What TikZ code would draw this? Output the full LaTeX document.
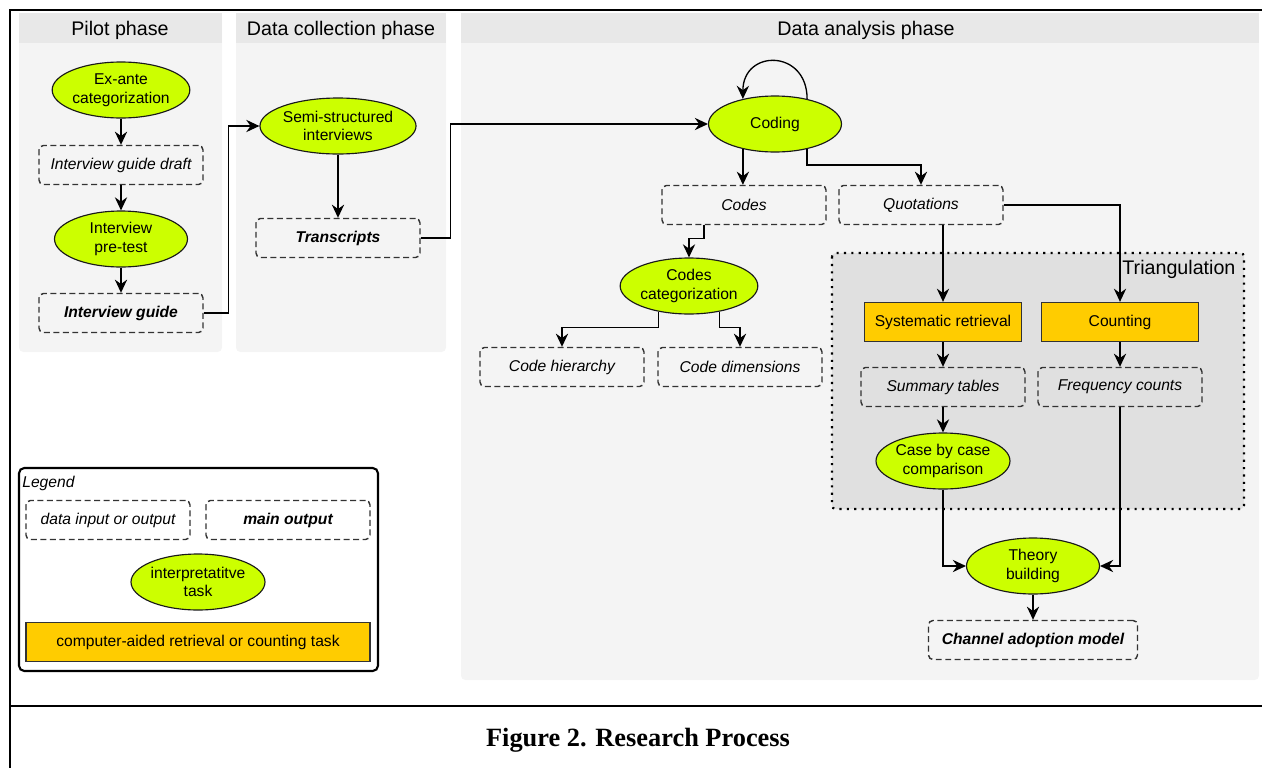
\documentclass[tikz,border=0pt]{standalone}
\usepackage{fontspec}
\setmainfont{Liberation Sans}
\newfontfamily\captionserif{Liberation Serif}
\usetikzlibrary{shapes.geometric, arrows.meta, calc}

\definecolor{taskgreen}{HTML}{CCFF00}
\definecolor{toolorange}{HTML}{FFCC00}
\definecolor{lanehead}{HTML}{E8E8E8}
\definecolor{lanebody}{HTML}{F4F4F4}
\definecolor{triangfill}{HTML}{E0E0E0}

\tikzset{
  task/.style={ellipse, draw=black!90, fill=taskgreen, line width=0.65pt,
    minimum width=2.66cm, minimum height=1.12cm, inner sep=0pt, align=center},
  datanode/.style={rectangle, rounded corners=2.5pt, draw=black!80, line width=0.8pt,
    dash pattern=on 3.4pt off 2pt, minimum width=3.28cm, minimum height=0.78cm, font=\itshape},
  mainout/.style={datanode, font=\bfseries\itshape},
  tooltask/.style={rectangle, draw=black!80, fill=toolorange, line width=0.75pt,
    minimum width=3.14cm, minimum height=0.78cm},
  flow/.style={-{Stealth[length=7.5pt, width=7pt, inset=2.5pt]}, line width=0.75pt},
  lanetitle/.style={font=\fontsize{11.2}{13}\selectfont}
}

\begin{document}
\fontsize{8.9}{10.7}\selectfont
\begin{tikzpicture}[x=0.02cm, y=-0.02cm]
    \useasboundingbox (0,0) rectangle (1262,768);

    % Frame of the figure
    \draw[line width=1.5pt] (10,768) -- (10,10) -- (1262,10);
    \draw[line width=1.5pt] (10,706) -- (1262,706);

    % Swimlanes of the three phases
    \fill[lanebody, rounded corners=2.5pt] (19,13) rectangle (222,352);
    \fill[lanehead] (19,13) rectangle (222,43);
    \fill[lanebody, rounded corners=2.5pt] (236,13) rectangle (446,352);
    \fill[lanehead] (236,13) rectangle (446,43);
    \fill[lanebody, rounded corners=2.5pt] (461,13) rectangle (1259,680);
    \fill[lanehead] (461,13) rectangle (1259,43);
    \node[lanetitle] (pilothead) at (120,30) {Pilot phase};
    \node[lanetitle] (collecthead) at (341,30) {Data collection phase};
    \node[lanetitle] (analysishead) at (866,30) {Data analysis phase};

    % Triangulation group
    \draw[fill=triangfill, line width=1.2pt, dash pattern=on 1.2pt off 3pt, rounded corners=2pt]
      (832,253) rectangle (1244,509);
    \node[lanetitle, anchor=east] (triang) at (1241,269) {Triangulation};

    % Pilot phase
    \node[task] (exante) at (121,90) {Ex-ante\\categorization};
    \node[datanode] (draft) at (121,165) {Interview guide draft};
    \node[task] (pretest) at (121,239) {Interview\\pre-test};
    \node[mainout] (guide) at (121,313) {Interview guide};

    % Data collection phase
    \node[task] (semi) at (338,126) {Semi-structured\\interviews};
    \node[mainout] (transcr) at (338,238) {Transcripts};

    % Data analysis phase
    \node[task] (coding) at (775,124) {Coding};
    \node[datanode] (codes) at (744,205) {Codes};
    \node[datanode] (quots) at (921,205) {Quotations};
    \node[task] (codecat) at (689,286) {Codes\\categorization};
    \node[datanode] (codehier) at (562,367) {Code hierarchy};
    \node[datanode] (codedim) at (740,367) {Code dimensions};
    \node[tooltask] (retrieval) at (943,322) {Systematic retrieval};
    \node[tooltask] (counting) at (1120,322) {Counting};
    \node[datanode] (summary) at (943,387) {Summary tables};
    \node[datanode] (freqs) at (1120,387) {Frequency counts};
    \node[task] (casecomp) at (943,461) {Case by case\\comparison};
    \node[task] (theory) at (1033,566) {Theory\\building};
    \node[mainout, minimum width=4.18cm] (model) at (1033,640) {Channel adoption model};

    % Flow arrows
    \draw[flow] (exante) -- (draft);
    \draw[flow] (draft) -- (pretest);
    \draw[flow] (pretest) -- (guide);
    \draw[flow] (guide.east) -- ++(25,0) |- (semi.west);
    \draw[flow] (semi) -- (transcr);
    \draw[flow] (transcr.east) -- ++(30,0) |- (coding.west);
    \draw[flow] (coding.38) .. controls +(0,-50) and +(0,-50) .. (coding.142);
    \draw[flow] (coding.218) -- (coding.218 |- codes.north);
    \draw[flow] (coding.322) -- ++(0,16) -| (quots.north);
    \draw[flow] ($(codes.south)+(-40,0)$) -- ++(0,13) -| (codecat.north);
    \draw[flow] (codecat.220) -- ++(0,16) -| (codehier.north);
    \draw[flow] (codecat.320) -- ++(0,16) -| (codedim.north);
    \draw[flow] (retrieval.north |- quots.south) -- (retrieval.north);
    \draw[flow] (quots.east) -| (counting.north);
    \draw[flow] (retrieval) -- (summary);
    \draw[flow] (counting) -- (freqs);
    \draw[flow] (summary) -- (casecomp);
    \draw[flow] (casecomp.south) |- (theory.west);
    \draw[flow] (freqs.south) |- (theory.east);
    \draw[flow] (theory) -- (model);

    % Legend
    \draw[line width=1.2pt, rounded corners=3pt, fill=white] (19,468) rectangle (378,671);
    \node[anchor=west, font=\itshape, inner sep=0pt] (leg) at (22,483) {Legend};
    \node[datanode] (legdata) at (108,520) {data input or output};
    \node[mainout] (legmain) at (288,520) {main output};
    \node[task] (legtask) at (198,582) {interpretatitve\\task};
    \node[tooltask, minimum width=6.88cm] (legtool) at (198,642) {computer-aided retrieval or counting task};

    % Caption
    \node[font=\captionserif\bfseries\fontsize{15}{18}\selectfont] (caption) at (638,740) {Figure 2. Research Process};
\end{tikzpicture}
\end{document}
